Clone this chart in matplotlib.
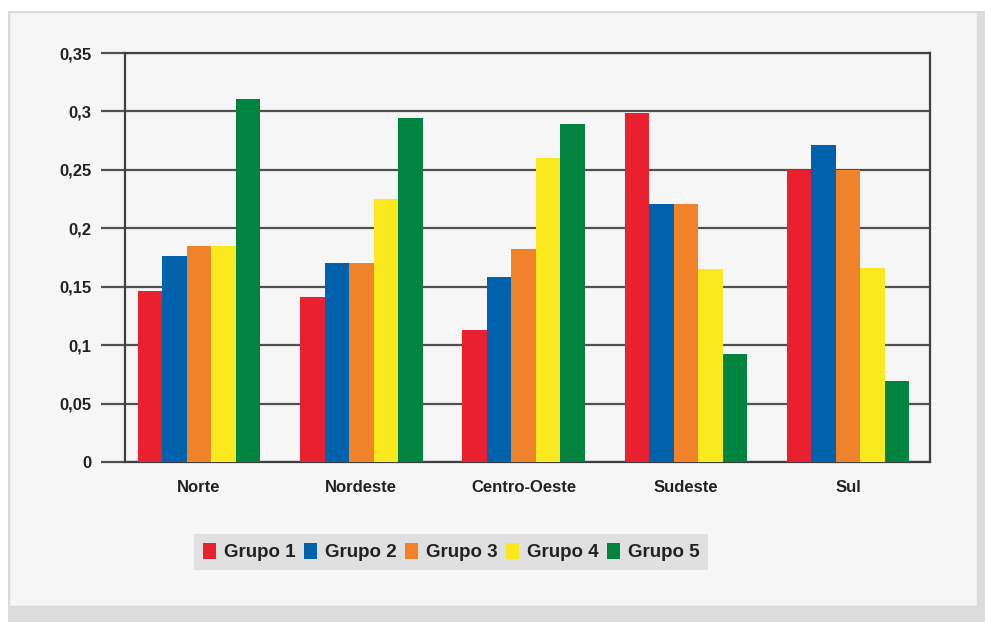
import numpy as np
import matplotlib.pyplot as plt
from matplotlib.patches import Rectangle

regioes = ['Norte', 'Nordeste', 'Centro-Oeste', 'Sudeste', 'Sul']
grupos = ['Grupo 1', 'Grupo 2', 'Grupo 3', 'Grupo 4', 'Grupo 5']
grupo1 = [0.146, 0.141, 0.113, 0.299, 0.250]
grupo2 = [0.176, 0.170, 0.158, 0.221, 0.271]
grupo3 = [0.185, 0.170, 0.182, 0.221, 0.250]
grupo4 = [0.185, 0.225, 0.260, 0.165, 0.166]
grupo5 = [0.311, 0.294, 0.289, 0.092, 0.069]
cores = ['#e8202f', '#0062ad', '#f0832a', '#fbe91f', '#00843f']
yticks = [0, 0.05, 0.1, 0.15, 0.2, 0.25, 0.3, 0.35]
ylabels = ['0', '0,05', '0,1', '0,15', '0,2', '0,25', '0,3', '0,35']

plt.rcParams['font.family'] = ['Liberation Sans', 'DejaVu Sans']
plt.rcParams['font.weight'] = 'bold'

W, H = 985, 622
fig = plt.figure(figsize=(W / 100, H / 100), dpi=100, facecolor='white')

# sombra e painel de fundo
fig.add_artist(Rectangle((8 / W, 0), 1, 611 / H, transform=fig.transFigure,
                         facecolor='#dcdcdc', edgecolor='none', zorder=-3))
fig.add_artist(Rectangle((9 / W, 16.5 / H), 968 / W, 594 / H, transform=fig.transFigure,
                         facecolor='#f6f6f6', edgecolor='#d9d9d9', lw=1, zorder=-2))

ax = fig.add_axes([125 / W, 160 / H, 805 / W, 409 / H])
ax.set_facecolor('#f6f6f6')

x = np.arange(len(regioes))
largura = 0.151
series = [grupo1, grupo2, grupo3, grupo4, grupo5]
for i, (vals, cor, nome) in enumerate(zip(series, cores, grupos)):
    ax.bar(x + (i - 2) * largura, vals, largura, color=cor, label=nome, zorder=3)

ax.set_xlim(-0.456, 4.505)
ax.set_ylim(0, 0.35)
ax.set_yticks(yticks)
ax.set_yticklabels(ylabels)
ax.set_xticks(x)
ax.set_xticklabels(regioes)
ax.grid(axis='y', color='#505050', lw=1.6, zorder=1)
ax.tick_params(axis='y', length=17, width=1.6, color='#505050', pad=7,
               labelsize=12, labelcolor='#222222')
ax.tick_params(axis='x', length=0, pad=13, labelsize=12, labelcolor='#222222')
for s in ax.spines.values():
    s.set_color('#404040')
    s.set_linewidth(1.6)

leg = fig.legend(loc='center', bbox_to_anchor=(451 / W, 1 - 552 / H), ncol=5,
                 fontsize=13.5, frameon=True, fancybox=False,
                 handlelength=0.72, handleheight=0.95, handletextpad=0.4,
                 columnspacing=0.45, borderpad=0.45, borderaxespad=0)
leg.get_frame().set_facecolor('#e0e0e0')
leg.get_frame().set_edgecolor('none')
leg.get_frame().set_alpha(1)
for t in leg.get_texts():
    t.set_color('#222222')

fig.savefig('out.png', dpi=100, facecolor=fig.get_facecolor())
